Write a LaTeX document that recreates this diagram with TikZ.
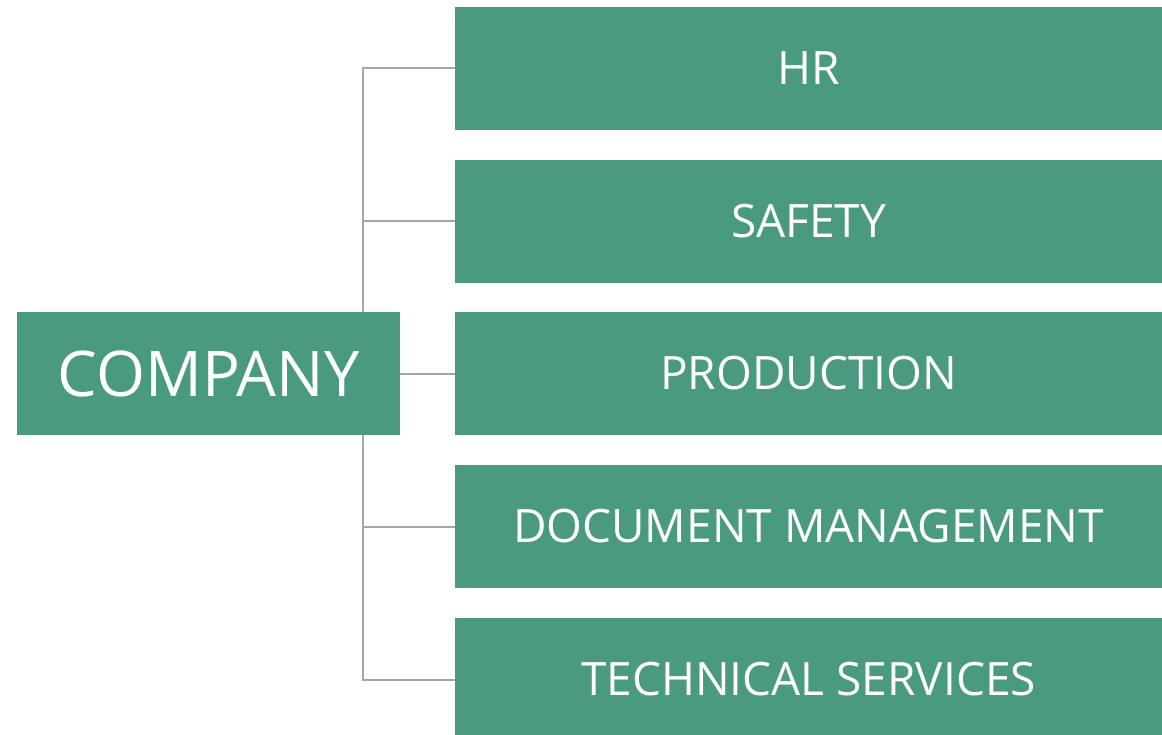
\documentclass[tikz,border=0pt]{standalone}
\usepackage{fontspec}
\setmainfont{Open Sans}
\usetikzlibrary{backgrounds}
\definecolor{boxgreen}{HTML}{4A9A80}
\definecolor{linegray}{HTML}{A6A6A6}
\tikzset{
  dept/.style={fill=boxgreen, text=white, inner sep=0pt, outer sep=0pt,
    minimum width=707pt, minimum height=123pt, anchor=north west,
    font=\fontsize{46}{50}\selectfont},
  root/.style={fill=boxgreen, text=white, inner sep=0pt, outer sep=0pt,
    minimum width=383pt, minimum height=123pt, anchor=north west,
    font=\fontsize{63}{70}\selectfont},
  conn/.style={draw=linegray, line width=2pt}
}
\begin{document}
\begin{tikzpicture}[x=1pt,y=-1pt]
\useasboundingbox (0,0) rectangle (1162,735);
\node[root] (company) at (17,312) {COMPANY};
\node[dept] (hr) at (455,7) {HR};
\node[dept] (safety) at (455,159.75) {SAFETY};
\node[dept] (production) at (455,312) {PRODUCTION};
\node[dept] (docs) at (455,465) {DOCUMENT MANAGEMENT};
\node[dept] (tech) at (455,618) {TECHNICAL SERVICES};
\coordinate (trunk) at (362.5,0);
\begin{pgfonlayer}{background}
\draw[conn] (hr.west) -- (hr.west -| trunk) -- (tech.west -| trunk) -- (tech.west);
\draw[conn] (safety.west) -- (safety.west -| trunk);
\draw[conn] (docs.west) -- (docs.west -| trunk);
\draw[conn] (company.east) -- (production.west);
\end{pgfonlayer}
\end{tikzpicture}
\end{document}
